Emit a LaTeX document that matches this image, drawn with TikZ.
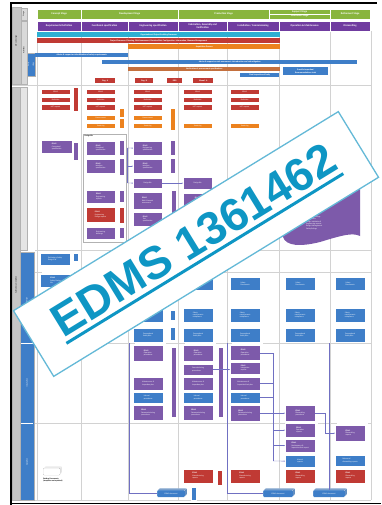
\documentclass[tikz,border=0pt]{standalone}
\usepackage{fontspec}
\setmainfont{Carlito}
\newfontfamily\wmfont{Liberation Sans}
\usetikzlibrary{shadows,calc,arrows.meta}
\definecolor{cgreen}{RGB}{137,181,62}
\definecolor{cpurH}{RGB}{112,60,160}
\definecolor{cpur}{RGB}{125,90,170}
\definecolor{ccyan}{RGB}{45,175,210}
\definecolor{cred}{RGB}{192,58,52}
\definecolor{corange}{RGB}{236,130,30}
\definecolor{cblue}{RGB}{62,126,200}
\definecolor{cbrown}{RGB}{196,112,62}
\definecolor{wmblue}{RGB}{14,150,196}
\definecolor{wmborder}{RGB}{100,185,215}
\newcommand\hf{\fontsize{2.6}{3.0}\selectfont\bfseries}
\newcommand\sbf{\fontsize{2.1}{2.5}\selectfont\bfseries}
\newcommand\df{\fontsize{1.9}{2.3}\selectfont}
\newcommand\mkn[7]{\node[#1, minimum width=#5pt, minimum height=#6pt] (#2) at (#3,#4) {#7};}
\tikzset{
  hbar/.style={fill=#1, draw=white, line width=0.3pt, text=white, font=\hf, inner sep=0pt, anchor=north west, align=center},
  sbar/.style={fill=#1, draw=none, text=white, font=\sbf, inner sep=0pt, anchor=north west, align=center},
  doc/.style={fill=#1, draw=white, line width=0.2pt, text=white, font=\df, align=left, anchor=north west, inner sep=0.6pt,
    double copy shadow={shadow xshift=0.9pt, shadow yshift=0.9pt, fill=#1!88!black, draw=white, line width=0.2pt}},
  vb/.style={fill=#1, draw=white, line width=0.2pt, anchor=north west, inner sep=0pt},
  grp/.style={draw=gray!60, line width=0.3pt, anchor=north west, inner sep=0pt},
  conn/.style={draw=gray!60!blue!80, line width=0.35pt},
  tip/.style={conn, -{Stealth[length=1.3pt,width=1.1pt]}},
  gl/.style={draw=gray!35, line width=0.5pt},
  col/.style={fill=#1, draw=gray!60, line width=0.3pt, anchor=north west, inner sep=0pt},
  rl/.style={rotate=90, font=\df, text=#1},
}
\begin{document}
\begin{tikzpicture}[x=1pt,y=-1pt]
\useasboundingbox (0,0) rectangle (381,505);
\fill[white] (0,0) rectangle (381,505);

% ---------- grid ----------
\foreach \gx in {37,81,128,178,227,279,330,371} \draw[gl] (\gx,31) -- (\gx,500);
\foreach \gy in {85} \draw[gl] (12,\gy) -- (371,\gy);
\foreach \gy in {250,272,343,423} \draw[gl] (35,\gy) -- (371,\gy);
\draw[gl] (12,500) -- (371,500);

% ---------- frame ----------
\draw[line width=1.6pt] (11,505) -- (11,3) -- (377,3);
\draw[line width=1.2pt] (11,503.5) -- (381,503.5);

% ---------- left columns ----------
\mkn{col=gray!45}{lcA}{12}{7}{8.5}{77}{}
\node[rl=black] (lcAt) at (16.2,41) {Life-cycle stage};
\mkn{col=gray!30}{lcS}{20.5}{8}{6.5}{12}{}
\node[rl=black] (lcSt) at (23.7,14) {Stage};
\mkn{col=gray!30}{lcB}{20.5}{21}{6.5}{63}{}
\node[rl=black] (lcBt) at (23.7,50) {Activities};
\mkn{col=cblue}{lcE}{27}{53}{8}{23}{}
\node[rl=white] (lcEt) at (31,64.5) {\shortstack{Early\\stage}};

\mkn{col=gray!45}{lcC}{12}{87}{8}{413}{}
\node[rl=black] (lcCt) at (16,285) {Safety Documentation};
\mkn{col=gray!20}{lcD}{20}{87}{7}{163}{}
\mkn{col=cblue}{lcF}{20}{252}{14}{248}{}
\draw[white, line width=0.8pt] (21,343) -- (33,343);
\draw[white, line width=0.8pt] (21,423) -- (33,423);
\node[rl=white] (lcF1) at (27,300) {Design};
\node[rl=white] (lcF2) at (27,383) {Installation};
\node[rl=white] (lcF3) at (27,462) {Operation};

% ---------- header rows ----------
\mkn{hbar=cgreen}{gCon}{37}{9}{44}{10}{Concept Stage}
\mkn{hbar=cgreen}{gDev}{81}{9}{97}{10}{Development Stage}
\mkn{hbar=cgreen}{gPro}{178}{9}{91}{10}{Production Stage}
\mkn{hbar=cgreen}{gSup}{269}{9}{61}{10}{Support Stage\\[0.8pt]Utilisation Stage}
\mkn{hbar=cgreen}{gRet}{330}{9}{40}{10}{Retirement Stage}
\draw[white, line width=0.2pt] (269,14) -- (330,14);

\mkn{hbar=cpurH}{pReq}{37}{21}{44}{10}{Requirements Definition}
\mkn{hbar=cpurH}{pFun}{81}{21}{47}{10}{Functional specification}
\mkn{hbar=cpurH}{pEng}{128}{21}{50}{10}{Engineering specification}
\mkn{hbar=cpurH}{pFab}{178}{21}{49}{10}{Fabrication, Assembly and\\Verification}
\mkn{hbar=cpurH}{pIns}{227}{21}{52}{10}{Installation / Commissioning}
\mkn{hbar=cpurH}{pOpe}{279}{21}{51}{10}{Operation \& Maintenance}
\mkn{hbar=cpurH}{pDis}{330}{21}{40}{10}{Dismantling}

% ---------- process bars ----------
\mkn{sbar=ccyan}{bOrg}{37}{32}{243}{4.5}{Organisational Project Enabling Processes}
\mkn{sbar=cred}{bPrj}{37}{38}{243}{4.5}{Project Processes: Planning, Risk Assessment, Decision Risk, Configuration, Information, Measure Management}
\mkn{sbar=corange}{bAcq}{128}{44}{152}{4.5}{Acquisition Process}
\mkn{sbar=cblue}{bAd1}{35}{53}{93}{4}{Advice \& support on identification of safety requirements}
\mkn{sbar=cblue}{bAd2}{102}{60}{255}{4}{Advice \& support on risk assessment, risk reduction and risk mitigation}
\mkn{sbar=cbrown}{bVer}{128}{66.5}{152}{4.5}{Verification of procurement specifications}
\mkn{sbar=cblue}{bPrv}{283}{67}{45}{8}{Provide inspection/\\Recommendations tools}
\mkn{sbar=cblue}{bFin}{240}{73}{39}{4}{Final inspection of body}
\mkn{sbar=cred}{rA}{95}{78}{20}{5}{Reg. A}
\mkn{sbar=cred}{rB}{135}{78}{18}{5}{Reg. B}
\mkn{sbar=cred}{rR}{167}{78}{15}{5}{RRR}
\mkn{sbar=cred}{rM}{193}{78}{20}{5}{Manuf. A}

% ---------- section 2: requests / procurement ----------
\foreach \cx/\cn in {41/a,86/b,133/c,183/d,230/e}{
  \mkn{doc=cred}{r1\cn}{\cx}{89}{29}{5.5}{EDMS}
  \mkn{doc=cred}{r2\cn}{\cx}{97}{29}{5.5}{Definition}
  \mkn{doc=cred}{r3\cn}{\cx}{104.5}{29}{5.5}{NPT request}
}
\mkn{vb=cred}{c1rb}{73}{87}{5}{24}{}
\foreach \cx/\cn in {86/b,133/c}{
  \mkn{doc=corange}{o1\cn}{\cx}{115}{29}{5}{Procurement}
}
\foreach \cx/\cn in {86/b,133/c,183/d,230/e}{
  \mkn{doc=corange}{o2\cn}{\cx}{123}{29}{5}{Tendering}
}
\mkn{vb=corange}{c2ob1}{119}{108}{5}{9}{}
\mkn{vb=corange}{c2ob2}{119}{118}{5}{10}{}
\mkn{vb=corange}{c3ob}{170}{108}{4.5}{22}{}

% ---------- section 2: design documents ----------
\mkn{doc=cpur}{c1cs}{41}{140}{31}{13}{\textbf{EDMS}\\Conceptual\\specification}
\mkn{vb=cpur}{c1pb}{73}{142}{5}{18}{}

\mkn{grp}{c2grp}{83}{134}{43}{108}{}
\node[anchor=north west, font=\df, inner sep=0.5pt] (c2grpt) at (84,134.5) {\textbf{Design file}};
\mkn{doc=cpur}{c2fs}{86}{141}{29}{14}{\textbf{EDMS}\\Functional\\specification}
\mkn{doc=cpur}{c2is}{86}{159}{29}{14}{\textbf{EDMS}\\Interface\\specification}
\mkn{doc=cpur}{c2er}{86}{190}{29}{13}{\textbf{EDMS}\\Engineering\\reports}
\mkn{doc=cred}{c2ed}{86}{207}{29}{15}{\textbf{EDMS}\\Engineering\\Design reports}
\mkn{doc=cpur}{c2dr}{86}{227}{29}{12}{Engineering\\drawings}
\mkn{vb=cpur}{c2b1}{119}{140}{5}{15}{}
\mkn{vb=cpur}{c2b2}{119}{158}{5}{17}{}
\mkn{vb=cpur}{c2b3}{119}{190}{5}{12}{}
\mkn{vb=cred}{c2b4}{119}{207}{5}{16}{}
\mkn{vb=cpur}{c2b5}{119}{227}{5}{11}{}

\mkn{doc=cpur}{c3es}{133}{141}{29}{14}{\textbf{EDMS}\\Engineering\\specification}
\mkn{doc=cpur}{c3is}{133}{159}{29}{14}{\textbf{EDMS}\\Interface\\specification}
\mkn{vb=cpur}{c3b1}{170}{140}{4.5}{15}{}
\mkn{vb=cpur}{c3b2}{170}{158}{4.5}{15}{}
\mkn{doc=cpur}{c3df}{133}{178}{29}{10}{Design file}
\mkn{doc=cpur}{c3rh}{133}{192}{29}{17}{\textbf{EDMS}\\Risk \& hazards\\assessment}
\mkn{doc=cpur}{c3ts}{133}{212}{29}{14}{\textbf{EDMS}\\Test\\specification}
\mkn{vb=cpur}{c3b3}{171}{190}{4.5}{55}{}
\mkn{doc=cpur}{c4df}{183}{177}{29}{12}{Design file}
\mkn{doc=cpur}{c4tr}{183}{193}{29}{14}{\textbf{EDMS}\\Test\\reports}

\coordinate (k1) at (127.5,148);
\coordinate (k2) at (127.5,183);
\draw[conn] (k1) -- (k2);
\draw[tip] (k1) -- (c3es.west);
\draw[tip] (c3is.west -| k1) -- (c3is.west);
\draw[tip] (k2) -- (c3df.west);
\draw[tip] (c3df.east) -- (c4df.west);

% big purple document
\fill[cpur] (283,160) -- (360,160) -- (360,236) .. controls (352,232) and (340,236) .. (320,242) .. controls (300,247) and (286,246) .. (283,237) -- cycle;
\node[anchor=north west, text=white, font=\df, align=left, inner sep=0pt] (bigt) at (306,216) {%
Function Drawings\\Architecture\\Design Validation \&\\Engineering reports\\Design Management\\Safety Rulings};

% ---------- section 3: safety documents ----------
\mkn{doc=cblue}{c1sd}{40}{253}{30}{12}{Preliminary Safety\\Design File}
\mkn{vb=cblue}{c1bb}{73}{253}{5}{8}{}
\mkn{doc=cblue}{c1sf}{40}{274}{31}{13}{\textbf{EDMS}\\Safety Design\\file}
\foreach \cx/\cn in {183/d,230/e,285/f,335/g}{
  \mkn{doc=cblue}{s1\cn}{\cx}{277}{30}{13}{Safety\\Documents}
}
\foreach \cx/\cn in {133/c,183/d,230/e,285/f,335/g}{
  \mkn{doc=cblue}{s2\cn}{\cx}{308}{30}{14}{Safety\\requirements\\compliance}
  \mkn{doc=cblue}{s3\cn}{\cx}{328}{30}{14}{Occupational\\Safety files}
}
\mkn{vb=cblue}{c3sb1}{170}{310}{4.5}{10}{}
\mkn{vb=cblue}{c3sb2}{170}{327}{4.5}{13}{}

% ---------- section 4: operation documents ----------
\mkn{doc=cpur}{c3op}{133}{345}{30}{16}{\textbf{EDMS}\\Operation\\procedures}
\mkn{doc=cpur}{c3mi}{133}{377}{30}{13}{Maintenance \&\\inspection plan}
\mkn{doc=cblue}{c3ma}{133}{392}{30}{11}{Manual\\procedures}
\mkn{doc=cpur}{c3de}{133}{405}{30}{15}{\textbf{EDMS}\\Decommissioning\\procedures}
\mkn{vb=cpur}{c3ob4}{171}{347}{4.5}{70}{}

\mkn{doc=cpur}{c4op}{183}{345}{30}{16}{\textbf{EDMS}\\Operation\\procedures}
\mkn{doc=cpur}{c4co}{183}{364}{30}{11}{Commissioning\\procedures}
\mkn{doc=cpur}{c4mi}{183}{377}{30}{13}{Maintenance \&\\inspection plan}
\mkn{doc=cblue}{c4ma}{183}{392}{30}{11}{Manual\\procedures}
\mkn{doc=cpur}{c4de}{183}{405}{30}{15}{\textbf{EDMS}\\Decommissioning\\procedures}
\mkn{vb=cpur}{c4ob4}{218}{347}{5}{70}{}

\mkn{doc=cpur}{c5op}{230}{345}{30}{15}{\textbf{EDMS}\\Operation\\procedures}
\mkn{doc=cpur}{c5ir}{230}{362}{30}{12}{\textbf{EDMS}\\Integration\\reports}
\mkn{doc=cpur}{c5mi}{230}{377}{30}{13}{Maintenance \&\\inspection final plan}
\mkn{doc=cblue}{c5ma}{230}{392}{30}{11}{Manual\\procedures}
\mkn{doc=cpur}{c5de}{230}{405}{30}{16}{\textbf{EDMS}\\Decommissioning\\procedures}
\draw[tip] (c4co.east) -- (c5ir.west |- c4co.east);

% ---------- section 5: dismantling ----------
\mkn{doc=cpur}{c6dp}{285}{405}{30}{16}{\textbf{EDMS}\\Dismantling\\procedures}
\mkn{doc=cpur}{c6or}{285}{423}{30}{14}{\textbf{EDMS}\\Operation\\reports}
\mkn{doc=cpur}{c6mr}{285}{439}{30}{13}{\textbf{EDMS}\\Maintenance \&\\inspection final report}
\mkn{doc=cblue}{c6ma}{285}{455}{30}{12}{Manual\\reports}
\mkn{doc=cred}{c6rd}{285}{468.5}{30}{14}{\textbf{EDMS}\\Dismantling\\reports}

\mkn{doc=cpur}{c7dr}{335}{425}{30}{16}{\textbf{EDMS}\\Dismantling\\reports}
\mkn{doc=cblue}{c7re}{335}{455}{30}{11}{Release of\\dismantling reports}
\mkn{doc=cred}{c7rd}{335}{468.5}{30}{14}{\textbf{EDMS}\\Dismantling\\reports}

\mkn{doc=cred}{c4rd}{183}{468.5}{30}{14}{\textbf{EDMS}\\Manufacturing\\reports}
\mkn{vb=cred}{c4rb}{217}{470}{5}{15}{}
\mkn{doc=cred}{c5rd}{230}{468.5}{30}{14}{\textbf{EDMS}\\Manufacturing\\reports}

% connectors col5 -> col6
\coordinate (m1) at (273,353);
\coordinate (m2) at (273,461);
\draw[conn] (c5op.east |- m1) -- (m1) -- (m2);
\draw[conn] (c5mi.east) -- (c5mi.east -| m1);
\draw[conn] (c5ma.east) -- (c5ma.east -| m1);
\draw[tip] (m2) -- (c6ma.west);
\draw[tip] (c6or.west -| m1) -- (c6or.west);
\draw[tip] (c6mr.west -| m1) -- (c6mr.west);
\draw[tip] (c5de.east |- c6dp.west) -- (c6dp.west);
\coordinate (m3) at (325,413);
\draw[conn] (c6dp.east |- m3) -- (m3);
\draw[tip] (m3) |- (c7dr.west);

% bottom boxes
\mkn{doc=cblue, rounded corners=1pt}{e1}{157}{490}{28}{7}{EDMS document}
\mkn{vb=cblue}{e1b}{191}{487}{5}{13}{}
\mkn{doc=cblue, rounded corners=1pt}{e2}{263}{490}{30}{7}{EDMS document}
\mkn{doc=cblue, rounded corners=1pt}{e3}{313}{490}{32}{7}{EDMS document}
\coordinate (t1) at (129.5,343);
\coordinate (t2) at (227.5,343);
\coordinate (t3) at (329,343);
\draw[conn] (t1) |- (e1.west);
\draw[conn] (t2) |- (e2.west);
\draw[conn] (t3) -- (t3 |- e3.north);

% legend
\mkn{doc=white, draw=gray!70, rounded corners=1pt}{leg}{43}{468}{17}{7}{}
\node[anchor=north west, font=\df, align=left, inner sep=0pt] (legt) at (43,478) {\textbf{Existing Documents}\\\textbf{(templates not updated)}};

% ---------- watermark ----------
\node[rotate=31.5, draw=wmborder, line width=1.3pt, fill=white, minimum width=381pt, minimum height=77pt, inner sep=0pt] (wm) at (196,244) {};
\coordinate (wmb) at ($(wm.north)!0.64!(wm.south)$);
\node[rotate=31.5, anchor=base, inner sep=0pt, text=wmblue, font=\wmfont\bfseries\fontsize{46}{50}\selectfont] (wmt) at (wmb) {\vtop{\hbox{EDMS 1361462}\kern4pt\hrule height 3pt}};
\end{tikzpicture}
\end{document}
